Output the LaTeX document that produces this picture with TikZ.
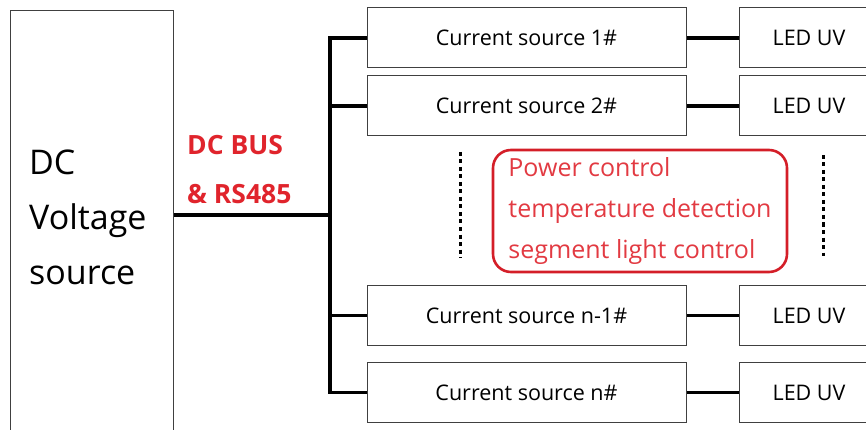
\documentclass[tikz,border=0pt]{standalone}
\usepackage{fontspec}
\setmainfont{Open Sans}
\usepackage{xcolor}
\usetikzlibrary{positioning}
\definecolor{busred}{RGB}{224,36,44}
\definecolor{noteline}{RGB}{212,30,40}
\definecolor{notetext}{RGB}{226,58,66}

\begin{document}
\begin{tikzpicture}[
  x=1pt, y=-1pt,
  srcbox/.style={draw=black!75, line width=1pt, inner sep=0pt},
  csbox/.style={
    draw=black!75, line width=1pt, inner sep=0pt,
    minimum width=319pt, minimum height=60pt,
    font=\fontsize{21.5}{26}\selectfont
  },
  ledbox/.style={csbox, minimum width=140pt},
  link/.style={line width=3.6pt, line join=miter},
  dotline/.style={line width=3pt, dash pattern=on 4pt off 3.5pt},
  notebox/.style={
    draw=noteline, line width=2.6pt, rounded corners=18pt,
    minimum width=294pt, minimum height=122pt, align=left,
    text=notetext, font=\fontsize{25}{41}\selectfont
  }
]
\useasboundingbox (0,0) rectangle (866,430);
\clip (0,0) rectangle (866,430);

% DC source on the left
\node[srcbox, minimum width=163pt, minimum height=440pt, anchor=north west] (dc) at (10,10) {};
\node[anchor=west, align=left, inner sep=0pt, font=\fontsize{34}{55}\selectfont] (dctext) at (29,217) {DC\\Voltage\\source};

% bus label
\node[anchor=west, align=left, inner sep=0pt, text=busred, font=\bfseries\fontsize{26.5}{49}\selectfont] (buslabel) at (187,170) {DC BUS\\\& RS485};

% current sources, top pair
\node[csbox] (cs1) at (526.5,38) {Current source 1\#};
\node[csbox, below=7pt of cs1] (cs2) {Current source 2\#};

% current sources, bottom pair
\node[csbox] (csn1) at (526.5,315.5) {Current source n-1\#};
\node[csbox, below=16pt of csn1] (csn) {Current source n\#};

% LED loads
\node[ledbox, right=52pt of cs1] (led1) {LED UV};
\node[ledbox, right=52pt of cs2] (led2) {LED UV};
\node[ledbox, right=52pt of csn1] (ledn1) {LED UV};
\node[ledbox, right=52pt of csn] (ledn) {LED UV};

% note in the gap
\node[notebox] (note) at (640,211) {Power control\\temperature detection\\segment light control};

% dots for the omitted channels
\draw[dotline] (460,152) -- (460,258);
\draw[dotline] (823,155) -- (823,256);

% bus wiring
\coordinate (bus) at (330,215);
\draw[link] (dc.east |- bus) -- (bus);
\draw[link] (cs1.west) -| (bus) |- (csn.west);
\draw[link] (cs2.west -| bus) -- (cs2.west);
\draw[link] (csn1.west -| bus) -- (csn1.west);

% source to load
\draw[link] (cs1) -- (led1);
\draw[link] (cs2) -- (led2);
\draw[link] (csn1) -- (ledn1);
\draw[link] (csn) -- (ledn);

\end{tikzpicture}
\end{document}
